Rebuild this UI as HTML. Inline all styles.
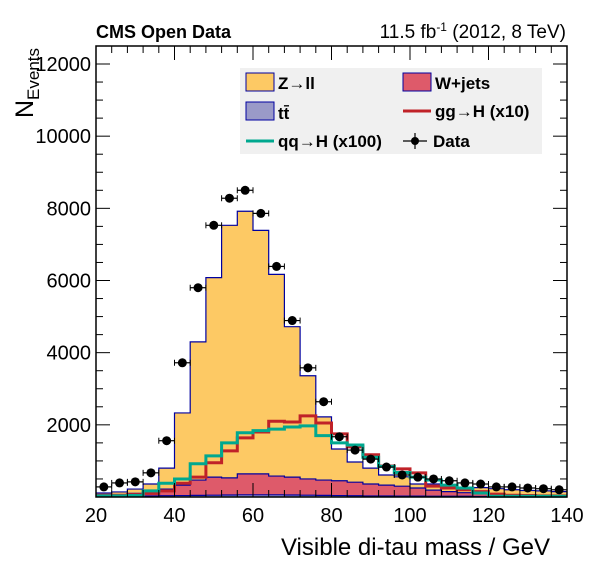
<!DOCTYPE html>
<html><head><meta charset="utf-8">
<style>
body{margin:0;background:#fff;}
svg{display:block;font-family:"Liberation Sans",Arial,sans-serif;}
</style></head>
<body>
<svg id="chart" width="596" height="572" viewBox="0 0 596 572" xmlns="http://www.w3.org/2000/svg">
<rect x="0" y="0" width="596" height="572" fill="#fff"/>
<g id="stack"></g>
<g id="lines"></g>
<g id="points"></g>
<g id="axes"></g>
<text x="96" y="38" font-size="18" font-weight="bold">CMS Open Data</text>
<text x="566" y="38" font-size="19" text-anchor="end">11.5 fb<tspan dy="-7" font-size="12">-1</tspan><tspan dy="7"> (2012, 8 TeV)</tspan></text>
<text x="550" y="555" font-size="24" text-anchor="end">Visible di-tau mass / GeV</text>
<text transform="translate(33,118) rotate(-90)" font-size="25">N<tspan font-size="17" dy="6">Events</tspan></text>
<g>
<rect x="240" y="68" width="302" height="86" fill="#f0f0f0"/>
<rect x="246" y="73" width="28" height="18" fill="#fdc964" stroke="#0000a0"/>
<text x="278" y="89" font-size="17" font-weight="bold">Z→ll</text>
<rect x="403" y="73" width="28" height="18" fill="#de5a6a" stroke="#0000a0"/>
<text x="435" y="89" font-size="17" font-weight="bold">W+jets</text>
<rect x="246" y="102" width="28" height="18" fill="#9a9ac8" stroke="#0000a0"/>
<text x="278" y="119" font-size="17" font-weight="bold">tt<tspan text-decoration="overline">̄</tspan></text>
<line x1="403" y1="111" x2="431" y2="111" stroke="#c02228" stroke-width="3"/>
<text x="435" y="117" font-size="17" font-weight="bold">gg→H (x10)</text>
<line x1="246" y1="141" x2="274" y2="141" stroke="#00a88f" stroke-width="3"/>
<text x="278" y="147" font-size="17" font-weight="bold">qq→H (x100)</text>
<line x1="403" y1="141" x2="427" y2="141" stroke="#000" stroke-width="1.2"/>
<line x1="415" y1="133" x2="415" y2="149" stroke="#000" stroke-width="1.2"/>
<circle cx="415" cy="141" r="4" fill="#000"/>
<text x="433" y="147" font-size="17" font-weight="bold">Data</text>
</g>
</svg>
<script>
const binEdgesStart = 20;
const binWidth = 4;
const ttbar = [20,20,25,30,35,40,45,50,55,60,60,60,55,50,45,40,35,30,30,25,25,20,20,20,15,15,15,10,10,10];
const wjetsCum = [50,60,100,100,220,330,470,550,530,640,640,580,550,500,470,450,410,360,330,300,250,190,150,120,100,80,60,50,40,40];
const totalMC = [110,140,220,360,800,2330,4300,6080,7530,7920,7390,6170,4720,3360,2220,1330,970,800,610,560,360,360,280,250,260,230,200,180,170,150];
const ggH = [50,50,65,100,170,380,550,950,1280,1640,1800,2100,2080,2250,2050,1750,1390,1170,860,780,670,300,250,200,150,80,50,40,30,30];
const qqH = [30,30,40,170,380,500,920,1140,1500,1780,1840,1880,1940,1970,1700,1500,1440,1100,850,680,550,470,330,250,110,20,20,20,20,20];
const dataVals = [280,390,420,670,1560,3720,5800,7530,8280,8500,7860,6390,4890,3580,2640,1670,1300,1050,830,610,550,500,450,390,360,280,280,250,230,200];
const xTicks = [20,40,60,80,100,120,140];
const yTicks = [2000,4000,6000,8000,10000,12000];

const X0=96, X1=567, Y0=497, YT=46;
const xs = v => X0 + (v-20)*(X1-X0)/120;
const ys = v => Y0 - v*(Y0-64)/12000;
const NS="http://www.w3.org/2000/svg";
function mk(tag, parent, attrs){const e=document.createElementNS(NS,tag);for(const k in attrs)e.setAttribute(k,attrs[k]);parent.appendChild(e);return e;}

const stack=document.getElementById('stack');
function stepPath(top, bottom){
  let d='';
  for(let i=0;i<top.length;i++){
    const a=xs(binEdgesStart+i*binWidth), b=xs(binEdgesStart+(i+1)*binWidth);
    d += (i===0?'M':'L')+a+','+ys(top[i])+' L'+b+','+ys(top[i])+' ';
  }
  if(bottom){
    for(let i=bottom.length-1;i>=0;i--){
      const a=xs(binEdgesStart+i*binWidth), b=xs(binEdgesStart+(i+1)*binWidth);
      d += 'L'+b+','+ys(bottom[i])+' L'+a+','+ys(bottom[i])+' ';
    }
    d+='Z';
  }
  return d;
}
const zero = totalMC.map(()=>0);
const zPath = mk('path',stack,{d:stepPath(totalMC,wjetsCum),fill:'#fdc964',stroke:'none'});


const wPath = mk('path',stack,{d:stepPath(wjetsCum,ttbar),fill:'#de5a6a',stroke:'none'});


const tPath = mk('path',stack,{d:stepPath(ttbar,zero),fill:'#9a9ac8',stroke:'none'});


[totalMC,wjetsCum,ttbar].forEach(arr=>{
  const o=mk('path',stack,{d:stepPath(arr,null),fill:'none',stroke:'#0000a0','stroke-width':1.2});
  
  
});
const lines=document.getElementById('lines');
const gg=mk('path',lines,{d:stepPath(ggH,null),fill:'none',stroke:'#c02228','stroke-width':3});


const qq=mk('path',lines,{d:stepPath(qqH,null),fill:'none',stroke:'#00a88f','stroke-width':3});



const pts=document.getElementById('points');
dataVals.forEach((v,i)=>{
  const c=binEdgesStart+(i+0.5)*binWidth;
  const g=mk('g',pts,{});
  
  
  mk('line',g,{x1:xs(c-2),x2:xs(c+2),y1:ys(v),y2:ys(v),stroke:'#000','stroke-width':1.2});
  const e=Math.sqrt(v);
  mk('line',g,{x1:xs(c),x2:xs(c),y1:ys(v+e),y2:ys(v-e),stroke:'#000','stroke-width':1.2});
  mk('line',g,{x1:xs(c-2),x2:xs(c-2),y1:ys(v)-3,y2:ys(v)+3,stroke:'#000','stroke-width':1});
  mk('line',g,{x1:xs(c+2),x2:xs(c+2),y1:ys(v)-3,y2:ys(v)+3,stroke:'#000','stroke-width':1});
  mk('circle',g,{cx:xs(c),cy:ys(v),r:4.5,fill:'#000'});
});

const ax=document.getElementById('axes');
const fr=mk('rect',ax,{x:X0,y:YT,width:X1-X0,height:Y0-YT,fill:'none',stroke:'#000','stroke-width':1.5});


for(let v=20; v<=140; v+=4){
  const maj=(v%20===0);
  const L=maj?14:7;
  mk('line',ax,{x1:xs(v),x2:xs(v),y1:Y0,y2:Y0-L,stroke:'#000','stroke-width':1});
  mk('line',ax,{x1:xs(v),x2:xs(v),y1:YT,y2:YT+L,stroke:'#000','stroke-width':1});
}
xTicks.forEach(v=>{
  const t=mk('text',ax,{x:xs(v),y:522,'font-size':20,'text-anchor':'middle'});
  t.textContent=v;
  
  
});
for(let v=0; v<=12500; v+=500){
  const maj=(v%2000===0);
  const L=maj?14:7;
  const y=ys(v);
  if(y<YT) continue;
  mk('line',ax,{x1:X0,x2:X0+L,y1:y,y2:y,stroke:'#000','stroke-width':1});
  mk('line',ax,{x1:X1,x2:X1-L,y1:y,y2:y,stroke:'#000','stroke-width':1});
}
yTicks.forEach(v=>{
  const t=mk('text',ax,{x:91,y:ys(v)+7,'font-size':20,'text-anchor':'end'});
  t.textContent=v;
  
  
});
</script>
</body></html>
